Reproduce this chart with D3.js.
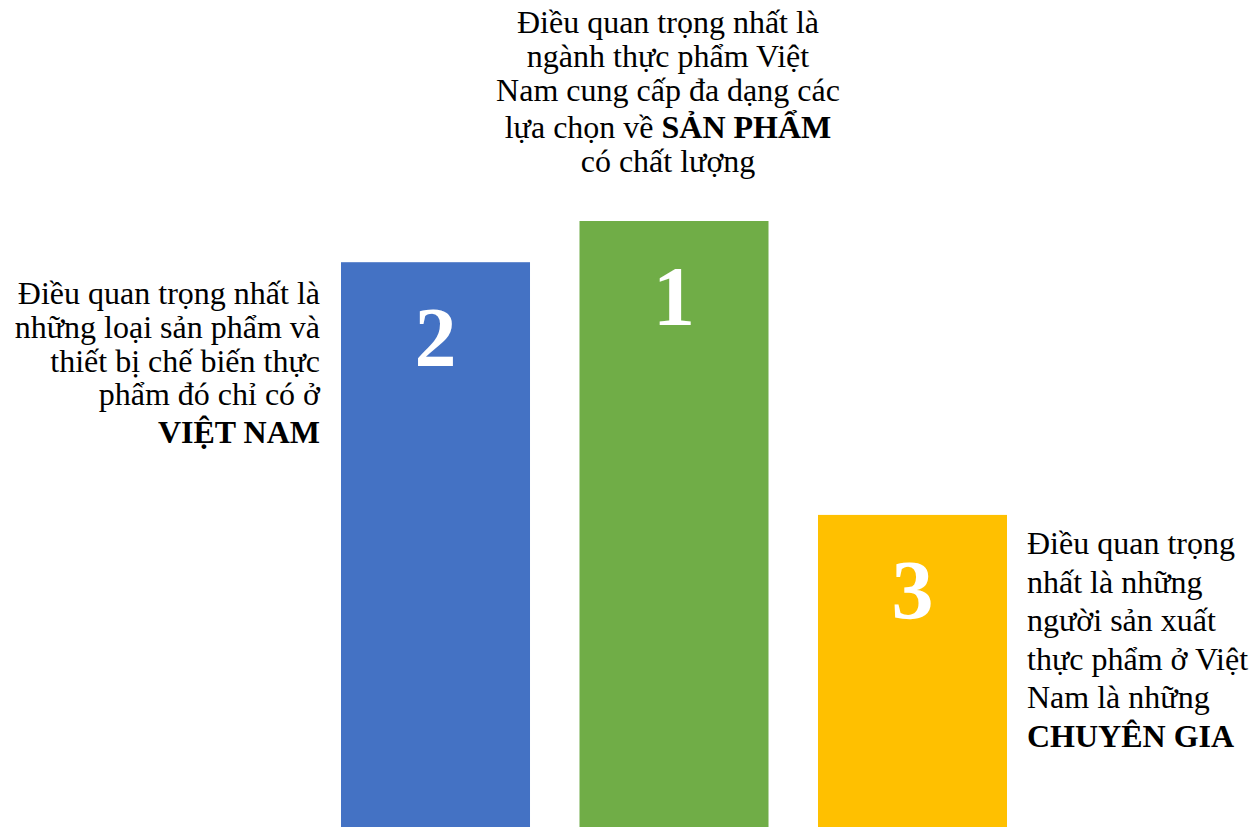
<!DOCTYPE html>
<html>
<head>
<meta charset="utf-8">
<script src="https://cdn.jsdelivr.net/npm/d3@7"></script>
<style>
  html, body { margin: 0; padding: 0; background: #ffffff; }
  svg { display: block; }
</style>
</head>
<body>
<script>
// ---- Data ----
const categories = ["Hạng 2", "Hạng 1", "Hạng 3"];
const podiumValues = [93.2, 100, 51.5];
const rankLabels = ["2", "1", "3"];
const barColors = ["#4472C4", "#70AD47", "#FFC000"];
// Description text, line by line; **...** marks bold segments
const descLeft = [
  "Điều quan trọng nhất là",
  "những loại sản phẩm và",
  "thiết bị chế biến thực",
  "phẩm đó chỉ có ở",
  "**VIỆT NAM**"
];
const descTop = [
  "Điều quan trọng nhất là",
  "ngành thực phẩm Việt",
  "Nam cung cấp đa dạng các",
  "lựa chọn về **SẢN PHẨM**",
  "có chất lượng"
];
const descRight = [
  "Điều quan trọng",
  "nhất là những",
  "người sản xuất",
  "thực phẩm ở Việt",
  "Nam là những",
  "**CHUYÊN GIA**"
];

// ---- Layout ----
const W = 1253, H = 827;
const svg = d3.select("body").append("svg").attr("width", W).attr("height", H);

const x = d3.scaleBand().domain(categories).range([341, 1007]).paddingInner(0.2075).paddingOuter(0);
const y = d3.scaleLinear().domain([0, 100]).range([H, 221]);

const font = "'Liberation Serif', 'Times New Roman', Times, serif";

svg.selectAll("rect.bar")
  .data(categories)
  .join("rect")
  .attr("class", "bar")
  .attr("x", d => x(d))
  .attr("width", x.bandwidth())
  .attr("y", (d, i) => y(podiumValues[i]))
  .attr("height", (d, i) => H - y(podiumValues[i]))
  .attr("fill", (d, i) => barColors[i]);

svg.selectAll("text.rank")
  .data(categories)
  .join("text")
  .attr("class", "rank")
  .attr("x", d => x(d) + x.bandwidth() / 2)
  .attr("y", (d, i) => y(podiumValues[i]) + 104)
  .attr("text-anchor", "middle")
  .attr("font-family", font)
  .attr("font-weight", "bold")
  .attr("font-size", 84)
  .attr("fill", "#ffffff")
  .text((d, i) => rankLabels[i]);

function drawBlock(lines, xPos, firstBaseline, anchor, lineH, boldExtra) {
  const t = svg.append("text")
    .attr("font-family", font)
    .attr("font-size", 32)
    .attr("fill", "#000000")
    .attr("text-anchor", anchor);
  let yy = firstBaseline;
  lines.forEach((line, li) => {
    const isBold = line.includes("**");
    if (li > 0) yy += lineH + (isBold ? boldExtra : 0);
    const parts = line.split("**");
    const lineText = t.append("tspan").attr("x", xPos).attr("y", yy);
    parts.forEach((p, pi) => {
      if (!p) return;
      const s = lineText.append("tspan").text(p);
      if (pi % 2 === 1) s.attr("font-weight", "bold");
    });
  });
}

const cBlue = categories[0], cGreen = categories[1], cYellow = categories[2];
drawBlock(descLeft, x(cBlue) - 21, y(podiumValues[0]) + 42, "end", 33.7, 4);
drawBlock(descTop, x(cGreen) + x.bandwidth() / 2 - 6, 33, "middle", 34, 3);
drawBlock(descRight, x(cYellow) + x.bandwidth() + 20, y(podiumValues[2]) + 39, "start", 38.6, 0);
</script>
</body>
</html>
